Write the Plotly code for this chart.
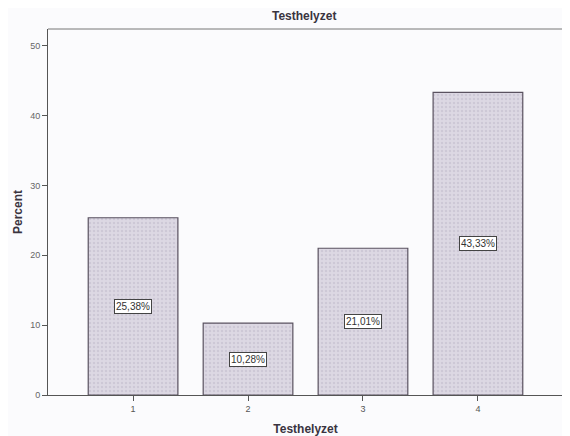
import plotly.graph_objects as go

categories = [1, 2, 3, 4]
percent = [25.38, 10.28, 21.01, 43.33]
labels = ["25,38%", "10,28%", "21,01%", "43,33%"]
y_ticks = [0, 10, 20, 30, 40, 50]

# the page adds an 8px body margin, so the figure is sized to fill the rest of the window
W, H = 562, 428

fig = go.Figure()
fig.add_trace(go.Bar(
    x=categories, y=percent, width=0.78,
    marker=dict(color="#d6d2de", line=dict(color="#5a5260", width=1.2),
                pattern=dict(shape=".", fgcolor="#bdb7c8", bgcolor="#dcd8e3", size=4, solidity=0.3)),
    hoverinfo="skip",
))
for c, v, t in zip(categories, percent, labels):
    fig.add_annotation(x=c, y=v / 2, text=t, showarrow=False,
                       font=dict(family="Liberation Sans, Arial", size=10, color="#333"),
                       bgcolor="white", bordercolor="#444", borderwidth=1, borderpad=1)

fig.update_layout(
    width=W, height=H,
    margin=dict(l=40, r=7, t=21, b=41, autoexpand=False),
    paper_bgcolor="#fbfbfd", plot_bgcolor="#fbfbfd",
    showlegend=False,
    title=dict(text="<b>Testhelyzet</b>", x=0.527, xanchor="center",
               y=1 - 8 / H, yanchor="middle", yref="container",
               font=dict(family="Liberation Sans, Arial", size=12, color="#3a3440")),
    font=dict(family="Liberation Sans, Arial", color="#555"),
    bargap=0.2,
)
fig.update_xaxes(range=[0.26, 4.74], tickvals=categories, ticks="outside", ticklen=5,
                 tickcolor="#555", tickfont=dict(size=9, color="#555"),
                 showline=True, linecolor="#555", linewidth=1, mirror=False, showgrid=False,
                 zeroline=False, automargin=False,
                 title=dict(text="<b>Testhelyzet</b>", standoff=11,
                            font=dict(size=12, color="#3a3440")))
fig.update_yaxes(range=[0, 52.4], tickvals=y_ticks, ticks="outside", ticklen=5,
                 tickcolor="#555", tickfont=dict(size=9, color="#666"),
                 showline=True, linecolor="#555", linewidth=1, showgrid=False, zeroline=False,
                 automargin=False,
                 title=dict(text="<b>Percent</b>", standoff=4,
                            font=dict(size=12, color="#3a3440")))
fig.add_shape(type="line", xref="paper", yref="paper", x0=0, x1=1, y0=1, y1=1,
              line=dict(color="#777", width=1))

fig.write_html("out.html")
